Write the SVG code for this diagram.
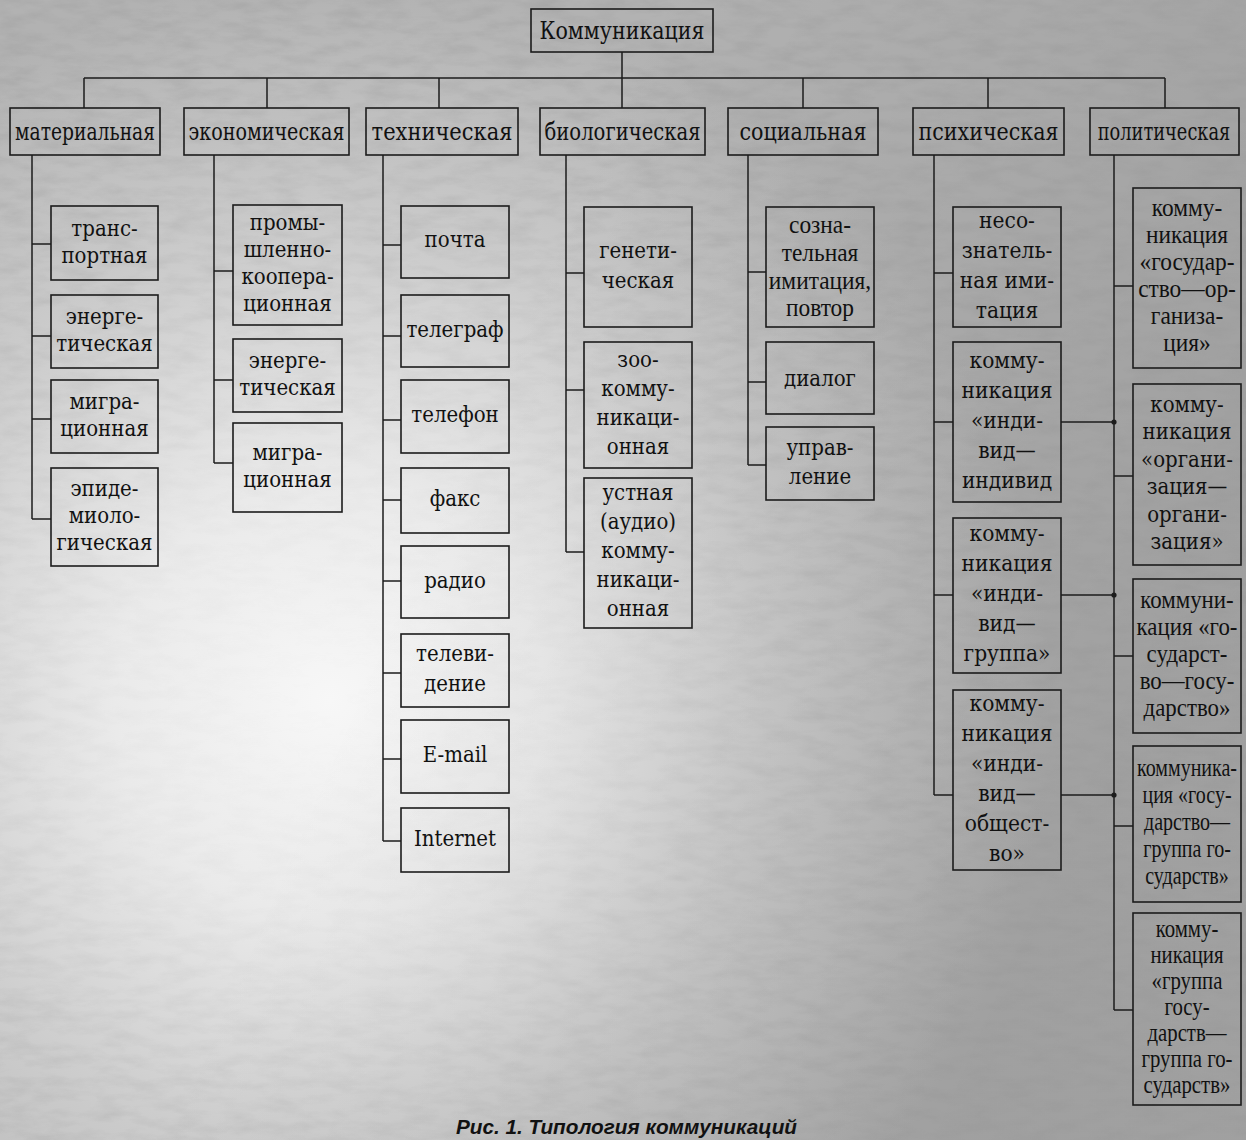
<svg xmlns="http://www.w3.org/2000/svg" width="1246" height="1140" viewBox="0 0 1246 1140">
<defs>
<radialGradient id="glow" cx="330" cy="700" r="720" gradientUnits="userSpaceOnUse">
<stop offset="0" stop-color="#f7f7f7"/>
<stop offset="0.3" stop-color="#eaeaea"/>
<stop offset="0.62" stop-color="#cdcdcd"/>
<stop offset="1" stop-color="#b2b2b2"/>
</radialGradient>
<linearGradient id="tr" x1="0" y1="0" x2="1" y2="0.4">
<stop offset="0.45" stop-color="#000" stop-opacity="0"/>
<stop offset="1" stop-color="#000" stop-opacity="0.1"/>
</linearGradient>
<radialGradient id="mg" cx="330" cy="700" r="700" gradientUnits="userSpaceOnUse">
<stop offset="0" stop-color="#000"/>
<stop offset="0.35" stop-color="#333"/>
<stop offset="1" stop-color="#fff"/>
</radialGradient>
<mask id="m"><rect width="1246" height="1140" fill="url(#mg)"/></mask>
<filter id="noise" x="0" y="0" width="100%" height="100%">
<feTurbulence type="fractalNoise" baseFrequency="0.03 0.09" numOctaves="4" seed="7"/>
<feColorMatrix type="matrix" values="0 0 0 0 0.3  0 0 0 0 0.3  0 0 0 0 0.3  1.3 0 0 0 -0.5"/>
</filter>
<style>
.b{fill:none;stroke:#1c1c1c;stroke-width:1.6}
.c{fill:none;stroke:#1c1c1c;stroke-width:1.5}
.h{font-family:"DejaVu Serif","Liberation Serif",serif;font-size:24px;fill:#111;text-anchor:middle}
.t text{font-family:"DejaVu Serif","Liberation Serif",serif;font-size:23px;fill:#111;text-anchor:middle}
.n text{font-family:"Liberation Serif","DejaVu Serif",serif;font-size:26px;fill:#111;text-anchor:middle}
.cap{font-family:"Liberation Sans","DejaVu Sans",sans-serif;font-size:20px;font-weight:bold;font-style:italic;fill:#111}
</style>
</defs>
<g id="background">
<rect width="1246" height="1140" fill="url(#glow)"/>
<rect width="1246" height="1140" fill="url(#tr)"/>
<rect width="1246" height="1140" filter="url(#noise)" mask="url(#m)" opacity="0.5"/>
</g>

<g id="connectors">
<path class="c" d="M622 52V108M84 78H1165M84 78V108M267 78V108M439 78V108M803 78V108M988 78V108M1165 78V108"/>
<path class="c" d="M32 155V519M32 244H51M32 336H51M32 419H51M32 519H51"/>
<path class="c" d="M214 155V463M214 271H233M214 380H233M214 463H233"/>
<path class="c" d="M383 155V841M383 245H401M383 336H401M383 420H401M383 500H401M383 581H401M383 673H401M383 759H401M383 841H401"/>
<path class="c" d="M566 155V552M566 273H584M566 390H584M566 552H584"/>
<path class="c" d="M748 155V465M748 272H766M748 382H766M748 465H766"/>
<path class="c" d="M934 155V795M934 273H953M934 422H953M934 595H953M934 795H953"/>
<path class="c" d="M1114 155V1010M1114 286H1133M1114 476H1133M1114 656H1133M1114 826H1133M1114 1010H1133"/>
<path class="c" d="M1061 422H1114M1061 595H1114M1061 795H1114"/>
<circle cx="1114" cy="422" r="2.6" fill="#1c1c1c"/>
<circle cx="1114" cy="595" r="2.6" fill="#1c1c1c"/>
<circle cx="1114" cy="795" r="2.6" fill="#1c1c1c"/>
</g>

<g id="root"><rect class="b" x="531" y="9" width="182" height="43"/><text class="h" x="622" y="39" textLength="165" lengthAdjust="spacingAndGlyphs">Коммуникация</text></g>

<g id="material"><rect class="b" x="10" y="108" width="150" height="47"/><text class="h" x="85" y="140" textLength="140" lengthAdjust="spacingAndGlyphs">материальная</text></g>
<g id="economic"><rect class="b" x="184" y="108" width="165" height="47"/><text class="h" x="266.5" y="140" textLength="156" lengthAdjust="spacingAndGlyphs">экономическая</text></g>
<g id="technical"><rect class="b" x="366" y="108" width="152" height="47"/><text class="h" x="442" y="140" textLength="141" lengthAdjust="spacingAndGlyphs">техническая</text></g>
<g id="biological"><rect class="b" x="540" y="108" width="165" height="47"/><text class="h" x="622.5" y="140" textLength="156" lengthAdjust="spacingAndGlyphs">биологическая</text></g>
<g id="social"><rect class="b" x="728" y="108" width="150" height="47"/><text class="h" x="803" y="140" textLength="127" lengthAdjust="spacingAndGlyphs">социальная</text></g>
<g id="psychic"><rect class="b" x="913" y="108" width="151" height="47"/><text class="h" x="988.5" y="140" textLength="140" lengthAdjust="spacingAndGlyphs">психическая</text></g>
<g id="political"><rect class="b" x="1090" y="108" width="149" height="47"/><g transform="matrix(.89 0 0 1.2 1164 0)"><text class="h" x="0" y="116.5" style="font-size:20px">политическая</text></g></g>

<g id="mat-transport"><rect class="b" x="51" y="206" width="107" height="74"/><g class="t" transform="matrix(.86 0 0 1 104.5 0)"><text y="236">транс-</text><text y="263">портная</text></g></g>
<g id="mat-energy"><rect class="b" x="51" y="295" width="107" height="73"/><g class="t" transform="matrix(.86 0 0 1 104.5 0)"><text y="324">энерге-</text><text y="351">тическая</text></g></g>
<g id="mat-migration"><rect class="b" x="51" y="380" width="107" height="73"/><g class="t" transform="matrix(.86 0 0 1 104.5 0)"><text y="409">мигра-</text><text y="436">ционная</text></g></g>
<g id="mat-epidemic"><rect class="b" x="51" y="468" width="107" height="98"/><g class="t" transform="matrix(.86 0 0 1 104.5 0)"><text y="496">эпиде-</text><text y="523">миоло-</text><text y="550">гическая</text></g></g>

<g id="eco-industrial"><rect class="b" x="233" y="205" width="109" height="120"/><g class="t" transform="matrix(.86 0 0 1 287.5 0)"><text y="230">промы-</text><text y="257">шленно-</text><text y="284">коопера-</text><text y="311">ционная</text></g></g>
<g id="eco-energy"><rect class="b" x="233" y="339" width="109" height="73"/><g class="t" transform="matrix(.86 0 0 1 287.5 0)"><text y="368">энерге-</text><text y="395">тическая</text></g></g>
<g id="eco-migration"><rect class="b" x="233" y="423" width="109" height="89"/><g class="t" transform="matrix(.86 0 0 1 287.5 0)"><text y="460">мигра-</text><text y="487">ционная</text></g></g>

<g id="tech-mail"><rect class="b" x="401" y="206" width="108" height="72"/><g class="t" transform="matrix(.86 0 0 1 455 0)"><text y="247">почта</text></g></g>
<g id="tech-telegraph"><rect class="b" x="401" y="295" width="108" height="72"/><g class="t" transform="matrix(.86 0 0 1 455 0)"><text y="337">телеграф</text></g></g>
<g id="tech-phone"><rect class="b" x="401" y="380" width="108" height="73"/><g class="t" transform="matrix(.86 0 0 1 455 0)"><text y="422">телефон</text></g></g>
<g id="tech-fax"><rect class="b" x="401" y="468" width="108" height="65"/><g class="t" transform="matrix(.86 0 0 1 455 0)"><text y="506">факс</text></g></g>
<g id="tech-radio"><rect class="b" x="401" y="546" width="108" height="72"/><g class="t" transform="matrix(.86 0 0 1 455 0)"><text y="588">радио</text></g></g>
<g id="tech-tv"><rect class="b" x="401" y="634" width="108" height="73"/><g class="t" transform="matrix(.86 0 0 1 455 0)"><text y="661">телеви-</text><text y="691">дение</text></g></g>
<g id="tech-email"><rect class="b" x="401" y="720" width="108" height="73"/><g class="t" transform="matrix(.86 0 0 1 455 0)"><text y="762">E-mail</text></g></g>
<g id="tech-internet"><rect class="b" x="401" y="808" width="108" height="64"/><g class="t" transform="matrix(.86 0 0 1 455 0)"><text y="846">Internet</text></g></g>

<g id="bio-genetic"><rect class="b" x="584" y="207" width="108" height="120"/><g class="t" transform="matrix(.86 0 0 1 638 0)"><text y="258">генети-</text><text y="288">ческая</text></g></g>
<g id="bio-zoo"><rect class="b" x="584" y="342" width="108" height="126"/><g class="t" transform="matrix(.86 0 0 1 638 0)"><text y="367">зоо-</text><text y="396">комму-</text><text y="425">никаци-</text><text y="454">онная</text></g></g>
<g id="bio-oral"><rect class="b" x="584" y="478" width="108" height="150"/><g class="t" transform="matrix(.86 0 0 1 638 0)"><text y="500">устная</text><text y="529">(аудио)</text><text y="558">комму-</text><text y="587">никаци-</text><text y="616">онная</text></g></g>

<g id="soc-imitation"><rect class="b" x="766" y="207" width="108" height="120"/><g class="n" transform="matrix(.9 0 0 1 820 0)"><text y="233">созна-</text><text y="261">тельная</text><text y="289">имитация,</text><text y="316">повтор</text></g></g>
<g id="soc-dialog"><rect class="b" x="766" y="342" width="108" height="72"/><g class="t" transform="matrix(.86 0 0 1 820 0)"><text y="386">диалог</text></g></g>
<g id="soc-control"><rect class="b" x="766" y="427" width="108" height="73"/><g class="t" transform="matrix(.86 0 0 1 820 0)"><text y="455">управ-</text><text y="484">ление</text></g></g>

<g id="psy-unconscious"><rect class="b" x="953" y="207" width="108" height="120"/><g class="t" transform="matrix(.88 0 0 1 1007 0)"><text y="228">несо-</text><text y="258">знатель-</text><text y="288">ная ими-</text><text y="318">тация</text></g></g>
<g id="psy-ind-ind"><rect class="b" x="953" y="342" width="108" height="160"/><g class="t" transform="matrix(.88 0 0 1 1007 0)"><text y="368">комму-</text><text y="398">никация</text><text y="428">«инди-</text><text y="458">вид—</text><text y="488">индивид</text></g></g>
<g id="psy-ind-group"><rect class="b" x="953" y="518" width="108" height="155"/><g class="t" transform="matrix(.88 0 0 1 1007 0)"><text y="541">комму-</text><text y="571">никация</text><text y="601">«инди-</text><text y="631">вид—</text><text y="661">группа»</text></g></g>
<g id="psy-ind-society"><rect class="b" x="953" y="690" width="108" height="180"/><g class="t" transform="matrix(.88 0 0 1 1007 0)"><text y="711">комму-</text><text y="741">никация</text><text y="771">«инди-</text><text y="801">вид—</text><text y="831">общест-</text><text y="861">во»</text></g></g>

<g id="pol-state-org"><rect class="b" x="1133" y="188" width="108" height="180"/><g class="n" transform="matrix(.9 0 0 1 1187 0)"><text y="216">комму-</text><text y="243">никация</text><text y="270">«государ-</text><text y="297">ство—ор-</text><text y="324">ганиза-</text><text y="351">ция»</text></g></g>
<g id="pol-org-org"><rect class="b" x="1133" y="384" width="108" height="181"/><g class="t" transform="matrix(.86 0 0 1 1187 0)"><text y="412">комму-</text><text y="439">никация</text><text y="467">«органи-</text><text y="494">зация—</text><text y="522">органи-</text><text y="549">зация»</text></g></g>
<g id="pol-state-state"><rect class="b" x="1133" y="579" width="108" height="154"/><g class="n" transform="matrix(.88 0 0 1 1187 0)"><text y="608">коммуни-</text><text y="635">кация «го-</text><text y="662">сударст-</text><text y="689">во—госу-</text><text y="716">дарство»</text></g></g>
<g id="pol-state-group"><rect class="b" x="1133" y="746" width="108" height="156"/><g class="n" transform="matrix(.77 0 0 1 1187 0)"><text y="776">коммуника-</text><text y="803">ция «госу-</text><text y="830">дарство—</text><text y="857">группа го-</text><text y="884">сударств»</text></g></g>
<g id="pol-group-group"><rect class="b" x="1133" y="913" width="108" height="192"/><g class="n" transform="matrix(.8 0 0 1 1187 0)"><text y="937">комму-</text><text y="963">никация</text><text y="989">«группа</text><text y="1015">госу-</text><text y="1041">дарств—</text><text y="1067">группа го-</text><text y="1093">сударств»</text></g></g>

<text class="cap" x="456" y="1134" textLength="341" lengthAdjust="spacingAndGlyphs">Рис. 1. Типология коммуникаций</text>
</svg>
